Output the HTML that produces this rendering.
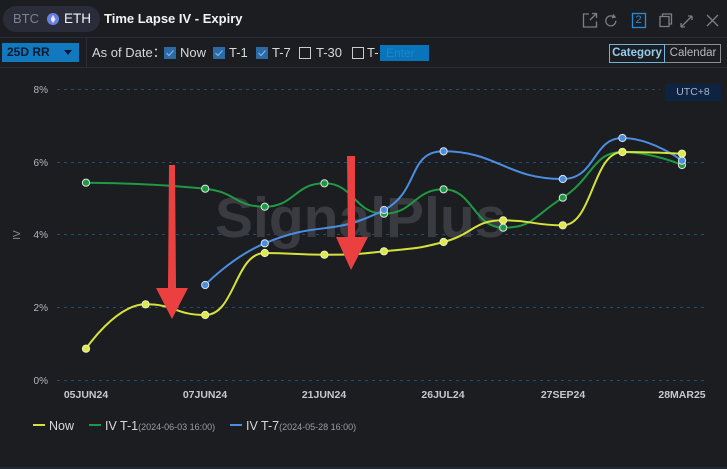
<!DOCTYPE html>
<html><head><meta charset="utf-8">
<style>
*{margin:0;padding:0;box-sizing:border-box}
html,body{width:727px;height:469px;overflow:hidden;background:#1b1d21;font-family:"Liberation Sans",sans-serif}
.a{position:absolute;white-space:nowrap}
.cb{position:absolute;width:12px;height:12px;top:47px}
.cb.on{background:#2b6aa5}
.cb.off{border:1px solid #c8cacd}
.lbl{position:absolute;top:45px;font-size:13px;color:#d6d8db;line-height:15px}
</style></head><body>
<!-- header row -->
<div class="a" style="left:3px;top:6px;width:97px;height:26px;border-radius:13px;background:#2a2d39"></div>
<div class="a" style="left:13px;top:11px;font-size:13px;color:#7d8190;line-height:16px">BTC</div>
<div class="a" style="left:47px;top:13px;width:12px;height:12px;border-radius:6px;background:#6a7fe6"></div>
<div class="a" style="left:50.5px;top:15px;width:5px;height:8px;background:#e8ecff;clip-path:polygon(50% 0,100% 55%,50% 100%,0 55%)"></div>
<div class="a" style="left:64px;top:11px;font-size:13.5px;color:#f2f3f5;line-height:16px">ETH</div>
<div class="a" style="left:104px;top:11px;font-size:13px;font-weight:bold;color:#f2f3f5;line-height:16px">Time Lapse IV - Expiry</div>
<div class="a" style="left:0;top:37px;width:727px;height:1px;background:#2a2d33"></div>
<!-- icons -->
<svg class="a" style="left:578px;top:8px" width="149" height="24" viewBox="0 0 149 24" fill="none" stroke="#7b7e85" stroke-width="1.3">
<path d="M11 6H5.5v13h13v-5.5"/><path d="M12 12L18.5 5.5M14 5.5h4.5V10"/>
<path d="M36.5 9.5a5 5 0 1 0 1.3 3.3"/><path d="M35 6.5l2 2.6-3 .6"/>
<rect x="54.5" y="5.5" width="13" height="14" stroke="#2d8bd6"/>
<path d="M82 8.5h9v10h-9z"/><path d="M84.5 8.5V6h9v10h-2.5"/>
<path d="M103 19l11-11M103 19v-4M103 19h4M114 8v4M114 8h-4"/>
<path d="M129 7l11 11M140 7l-11 11"/>
</svg>
<div class="a" style="left:634px;top:14px;font-size:11px;color:#2d8bd6;line-height:13px;width:9px;text-align:center">2</div>
<!-- second row -->
<div class="a" style="left:2px;top:43px;width:77px;height:19px;background:#1279bf"></div>
<div class="a" style="left:7px;top:45px;font-size:12px;font-weight:bold;color:#0b1a30;line-height:15px">25D RR</div>
<div class="a" style="left:64px;top:50px;width:0;height:0;border-left:4px solid transparent;border-right:4px solid transparent;border-top:5px solid #0b1a30"></div>
<div class="a" style="left:86px;top:38px;width:1px;height:29px;background:#2a2d33"></div>
<div class="lbl" style="left:92px">As of Date：</div>
<div class="cb on" style="left:164px"></div><div class="lbl" style="left:180px">Now</div>
<div class="cb on" style="left:213px"></div><div class="lbl" style="left:229px">T-1</div>
<div class="cb on" style="left:256px"></div><div class="lbl" style="left:272px">T-7</div>
<svg class="a" style="left:0;top:0" width="300" height="66"><g fill="none" stroke="#7fb6e4" stroke-width="1.2"><path d="M166.5 53l2.5 2.5 4.5-5"/><path d="M215.5 53l2.5 2.5 4.5-5"/><path d="M258.5 53l2.5 2.5 4.5-5"/></g></svg>
<div class="cb off" style="left:299px"></div><div class="lbl" style="left:316px">T-30</div>
<div class="cb off" style="left:352px"></div><div class="lbl" style="left:367px">T-</div>
<div class="a" style="left:380px;top:45px;width:49px;height:16px;background:#0a74ba"></div>
<div class="a" style="left:386px;top:46px;font-size:12px;color:#1e86c8;line-height:14px">Enter</div>
<div class="a" style="left:609px;top:44px;width:56px;height:19px;border:1px solid #6fb4dc"></div>
<div class="a" style="left:609px;top:46px;width:56px;text-align:center;font-size:11.5px;font-weight:bold;color:#95cdef;line-height:15px">Category</div>
<div class="a" style="left:665px;top:44px;width:56px;height:19px;border:1px solid #8b8e93;border-left:none"></div>
<div class="a" style="left:665px;top:46px;width:56px;text-align:center;font-size:11.5px;color:#b5b8bd;line-height:15px">Calendar</div>
<div class="a" style="left:0;top:67px;width:727px;height:1px;background:#2a2d33"></div>
<div class="a" style="left:665px;top:84px;width:56px;height:17px;background:#0d2341"></div>
<div class="a" style="left:665px;top:86px;width:56px;text-align:center;font-size:10.5px;color:#a9b5c6;line-height:13px">UTC+8</div>
<!-- chart -->
<svg class="a" style="left:0;top:0" width="727" height="469" font-family="Liberation Sans, sans-serif">
<g stroke="#1f4d78" stroke-width="1" stroke-dasharray="3,4">
<line x1="57" y1="89.5" x2="660" y2="89.5"/>
<line x1="57" y1="162.5" x2="708" y2="162.5"/>
<line x1="57" y1="234.5" x2="708" y2="234.5"/>
<line x1="57" y1="307.5" x2="708" y2="307.5"/>
<line x1="57" y1="380.5" x2="708" y2="380.5"/>
</g>
<g font-size="10" fill="#b3b6bb" text-anchor="end">
<text x="48" y="93">8%</text><text x="48" y="166">6%</text><text x="48" y="238">4%</text><text x="48" y="311">2%</text><text x="48" y="384">0%</text>
</g>
<text transform="translate(20,235) rotate(-90)" font-size="10" fill="#8a8d92" text-anchor="middle">IV</text>
<g font-size="10.5" font-weight="bold" fill="#c5c8cc" text-anchor="middle">
<text x="86" y="398">05JUN24</text><text x="205" y="398">07JUN24</text><text x="324" y="398">21JUN24</text><text x="443" y="398">26JUL24</text><text x="563" y="398">27SEP24</text><text x="682" y="398">28MAR25</text>
</g>
<text x="215" y="237" font-size="57" font-weight="bold" fill="#393b40">SignalPlus</text>
<g fill="none" stroke-width="2">
<path stroke="#1f9a43" d="M86,182.7 C86,182.7 146.5,182.7 205.2,188.7 C235.9,191.8 235,206.7 264.8,206.7 C294.6,206.7 294.6,183.3 324.4,183.3 C354.2,183.3 354.2,213.7 384,213.7 C413.8,213.7 413.8,189.3 443.6,189.3 C473.4,189.3 473.4,227.7 503.2,227.7 C533,227.7 533,216.6 562.8,197.7 C592.6,178.8 592.6,152 622.4,152 C652.2,152 682,165 682,165"/>
<path stroke="#4b8ee0" d="M205.2,285 C205.2,285 231.7,257.2 264.8,243.3 C321.1,219.7 330.6,237.5 384,210 C420,191.5 407.3,151.3 443.6,151.3 C496.7,151.3 506.6,179 562.8,179 C596,179 592.6,138 622.4,138 C652.2,138 682,160.7 682,160.7"/>
<path stroke="#d6e23c" d="M86,348.7 C86,348.7 115.8,304.3 145.6,304.3 C175.4,304.3 175.4,315 205.2,315 C235,315 235,253 264.8,253 C294.6,253 294.6,254.7 324.4,254.7 C354.2,254.7 354.2,254.5 384,251.3 C413.8,248.1 413.8,249.75 443.6,242 C473.4,234.25 473.4,220.3 503.2,220.3 C533,220.3 533,225.3 562.8,225.3 C592.6,225.3 592.6,152 622.4,152 C652.2,152 682,153.7 682,153.7"/>
</g>
<g stroke="#dfe3e6" stroke-width="1">
<g fill="#1f9a43"><circle cx="86" cy="182.7" r="3.6"/><circle cx="205.2" cy="188.7" r="3.6"/><circle cx="264.8" cy="206.7" r="3.6"/><circle cx="324.4" cy="183.3" r="3.6"/><circle cx="384" cy="213.7" r="3.6"/><circle cx="443.6" cy="189.3" r="3.6"/><circle cx="503.2" cy="227.7" r="3.6"/><circle cx="562.8" cy="197.7" r="3.6"/><circle cx="622.4" cy="152" r="3.6"/><circle cx="682" cy="165" r="3.6"/></g>
<g fill="#4b8ee0"><circle cx="205.2" cy="285" r="3.6"/><circle cx="264.8" cy="243.3" r="3.6"/><circle cx="384" cy="210" r="3.6"/><circle cx="443.6" cy="151.3" r="3.6"/><circle cx="562.8" cy="179" r="3.6"/><circle cx="622.4" cy="138" r="3.6"/><circle cx="682" cy="160.7" r="3.6"/></g>
<g fill="#dde84c" stroke="#eef2b8"><circle cx="86" cy="348.7" r="3.6"/><circle cx="145.6" cy="304.3" r="3.6"/><circle cx="205.2" cy="315" r="3.6"/><circle cx="264.8" cy="253" r="3.6"/><circle cx="324.4" cy="254.7" r="3.6"/><circle cx="384" cy="251.3" r="3.6"/><circle cx="443.6" cy="242" r="3.6"/><circle cx="503.2" cy="220.3" r="3.6"/><circle cx="562.8" cy="225.3" r="3.6"/><circle cx="622.4" cy="152" r="3.6"/><circle cx="682" cy="153.7" r="3.6"/></g>
</g>
<!-- red arrows -->
<g fill="#ea4140">
<polygon points="169,165 175,165 176,288 188,288 172,319 156,288 168,288"/>
<polygon points="347,156 355,156 355,237 368,237 351,270 336,237 348,237"/>
</g>
<!-- legend -->
<rect x="33" y="424" width="12" height="2" fill="#d6e23c"/>
<rect x="89" y="424" width="12" height="2" fill="#1f9a43"/>
<rect x="230" y="424" width="12" height="2" fill="#4b8ee0"/>
<g font-size="12.5" fill="#d6d8db">
<text x="49" y="430">Now</text>
<text x="105" y="430">IV T-1<tspan font-size="9" fill="#9a9da2">(2024-06-03 16:00)</tspan></text>
<text x="246" y="430">IV T-7<tspan font-size="9" fill="#9a9da2">(2024-05-28 16:00)</tspan></text>
</g>
<rect x="0" y="467" width="727" height="2" fill="#1f2a36"/>
</svg>
</body></html>
